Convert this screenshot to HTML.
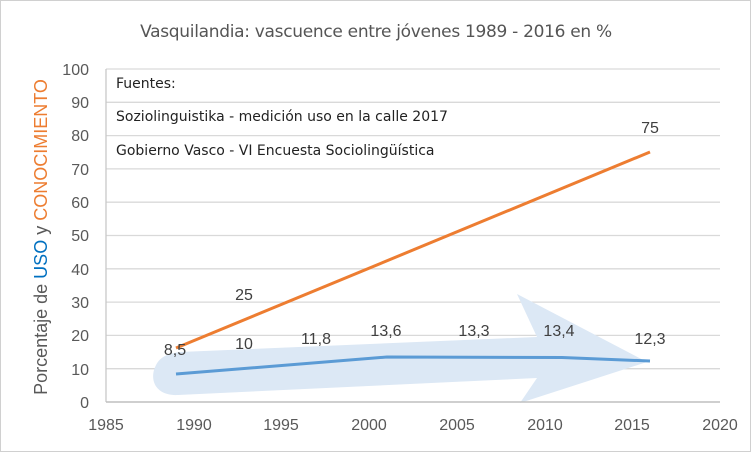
<!DOCTYPE html>
<html><head><meta charset="utf-8"><style>
html,body{margin:0;padding:0;background:#fff;}
svg{display:block;font-family:"Liberation Sans","DejaVu Sans",sans-serif;}
</style></head><body>
<svg width="752" height="452" viewBox="0 0 752 452" xmlns="http://www.w3.org/2000/svg">
<rect x="0.5" y="0.5" width="750" height="451" fill="#fff" stroke="#d0d0d0"/>
<text x="376" y="37" text-anchor="middle" font-size="17" fill="#555" font-family="DejaVu Sans, sans-serif" letter-spacing="-0.3">Vasquilandia: vascuence entre jóvenes 1989 - 2016 en %</text>
<g stroke="#d9d9d9" stroke-width="1.3">
<line x1="106" x2="720" y1="69" y2="69"/><line x1="106" x2="720" y1="102.3" y2="102.3"/>
<line x1="106" x2="720" y1="135.6" y2="135.6"/><line x1="106" x2="720" y1="168.9" y2="168.9"/>
<line x1="106" x2="720" y1="202.2" y2="202.2"/><line x1="106" x2="720" y1="235.5" y2="235.5"/>
<line x1="106" x2="720" y1="268.8" y2="268.8"/><line x1="106" x2="720" y1="302.1" y2="302.1"/>
<line x1="106" x2="720" y1="335.4" y2="335.4"/><line x1="106" x2="720" y1="368.7" y2="368.7"/>
</g>
<line x1="106" x2="106" y1="69" y2="402" stroke="#c8c8c8" stroke-width="1.3"/>
<path d="M178 395 C160 396 150 385 154 370 C158 358 165 354 180 352 L537 337 L517 294 L647 362 L520 403 L537 378 Z" fill="#dce8f5"/>
<line x1="106" x2="720" y1="402" y2="402" stroke="#bfbfbf" stroke-width="1.5"/>
<g font-size="16" fill="#595959" text-anchor="end">
<text x="89" y="75">100</text><text x="89" y="108">90</text><text x="89" y="141">80</text>
<text x="89" y="175">70</text><text x="89" y="208">60</text><text x="89" y="241">50</text>
<text x="89" y="275">40</text><text x="89" y="308">30</text><text x="89" y="341">20</text>
<text x="89" y="375">10</text><text x="89" y="408">0</text>
</g>
<g font-size="16" fill="#595959" text-anchor="middle">
<text x="106" y="430">1985</text><text x="194" y="430">1990</text><text x="281" y="430">1995</text>
<text x="369" y="430">2000</text><text x="457" y="430">2005</text><text x="545" y="430">2010</text>
<text x="632" y="430">2015</text><text x="720" y="430">2020</text>
</g>
<text transform="translate(47,237) rotate(-90)" text-anchor="middle" font-size="18" fill="#595959">Porcentaje de <tspan fill="#0070c0">USO</tspan> y <tspan fill="#ed7d31">CONOCIMIENTO</tspan></text>
<g font-family="DejaVu Sans, sans-serif" font-size="14" fill="#222">
<text x="116" y="88">Fuentes:</text>
<text x="116" y="121">Soziolinguistika - medición uso en la calle 2017</text>
<text x="116" y="155">Gobierno Vasco - VI Encuesta Sociolingüística</text>
</g>
<polyline points="176,348 650,152" fill="none" stroke="#ed7d31" stroke-width="3"/>
<polyline points="176,374 387,357 562,357.5 650,361" fill="none" stroke="#5b9bd5" stroke-width="3"/>
<g font-size="16" fill="#404040" text-anchor="middle">
<text x="175" y="355">8,5</text><text x="244" y="300">25</text><text x="244" y="349">10</text>
<text x="316" y="344">11,8</text><text x="386" y="336">13,6</text><text x="474" y="336">13,3</text>
<text x="559" y="336">13,4</text><text x="650" y="344">12,3</text><text x="650" y="133">75</text>
</g>
</svg>
</body></html>
